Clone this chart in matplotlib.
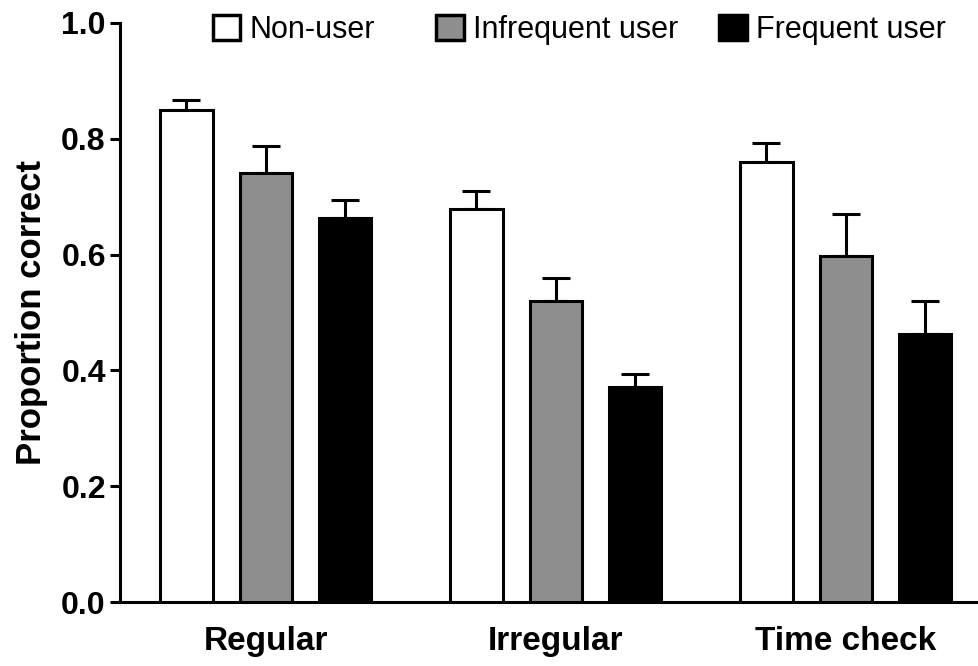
import matplotlib
matplotlib.use("Agg")
import matplotlib.pyplot as plt
from matplotlib.patches import Patch
import numpy as np

categories = ["Regular", "Irregular", "Time check"]
series_names = ["Non-user", "Infrequent user", "Frequent user"]
means = {
    "Non-user":        [0.849, 0.679, 0.760],
    "Infrequent user": [0.741, 0.520, 0.598],
    "Frequent user":   [0.663, 0.371, 0.463],
}
errors = {
    "Non-user":        [0.018, 0.031, 0.033],
    "Infrequent user": [0.047, 0.040, 0.072],
    "Frequent user":   [0.031, 0.023, 0.057],
}
colors = {"Non-user": "white", "Infrequent user": "#8e8e8e", "Frequent user": "black"}
yticks = [0.0, 0.2, 0.4, 0.6, 0.8, 1.0]
ytick_labels = ["0.0", "0.2", "0.4", "0.6", "0.8", "1.0"]

plt.rcParams['font.family'] = ['Liberation Sans', 'DejaVu Sans']

W, H = 979, 666
fig = plt.figure(figsize=(W/100, H/100), dpi=100)
ax = fig.add_axes([120/W, 1-602/H, 1-120/W, (602-23)/H])

x = np.arange(len(categories))
offset = 0.274
width = 0.18
lw = 2.2
for i, name in enumerate(series_names):
    pos = x + (i - 1) * offset
    ax.errorbar(pos, means[name], yerr=[[0]*len(categories), errors[name]],
                fmt='none', ecolor='black', elinewidth=lw, capsize=10, capthick=lw, zorder=2)
    ax.bar(pos, means[name], width=width, color=colors[name], edgecolor='black',
           linewidth=lw, zorder=3)

ax.set_xlim(-0.503, 2.459)
ax.set_ylim(0, 1.0)
ax.set_yticks(yticks)
ax.set_yticklabels(ytick_labels, fontsize=23, fontweight='bold')
ax.set_xticks(x)
ax.set_xticklabels(categories, fontsize=24, fontweight='bold')
ax.tick_params(axis='x', length=0, pad=17)
ax.tick_params(axis='y', length=7.2, width=lw, pad=3)
ax.set_ylabel("Proportion correct", fontsize=25, fontweight='bold', labelpad=9.5)

for s in ['top', 'right']:
    ax.spines[s].set_visible(False)
for s in ['left', 'bottom']:
    ax.spines[s].set_linewidth(lw)

legend_left_px = [213, 436, 719]
for name, lx in zip(series_names, legend_left_px):
    h = Patch(facecolor=colors[name], edgecolor='black', linewidth=2.5, label=name)
    fig.legend(handles=[h], loc='upper left', bbox_to_anchor=(lx/W, 1-15/H),
               frameon=False, fontsize=22, handlelength=0.9, handleheight=0.85,
               handletextpad=0.3, borderpad=0, borderaxespad=0)

fig.savefig("out.png", dpi=100)
